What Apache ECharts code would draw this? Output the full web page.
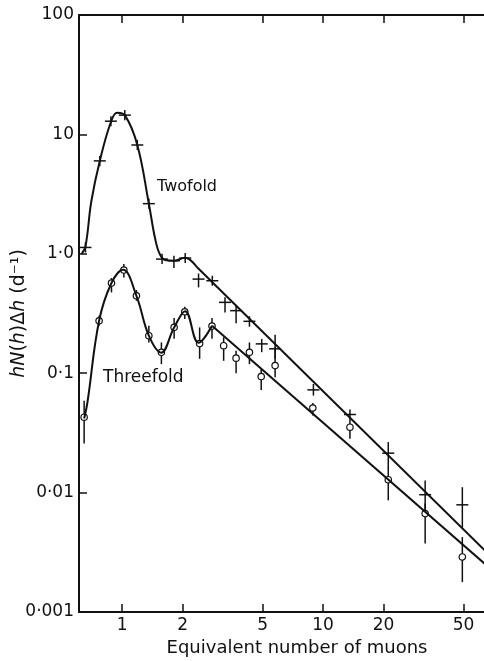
<!DOCTYPE html>
<html>
<head>
<meta charset="utf-8">
<script src="https://cdn.jsdelivr.net/npm/echarts@6/dist/echarts.min.js"></script>
<style>
  html, body { margin: 0; padding: 0; background: #fff; }
  #chart { width: 484px; height: 661px; }
</style>
</head>
<body>
<div id="chart"></div>
<script>
// axis ranges and ticks
const xMin = 0.61;
const xMax = 65.4;
const xTickValues = [1, 2, 5, 10, 20, 50];
const yTickValues = [0.001, 0.01, 0.1, 1, 10, 100];
const yTickLabels = ["0·001", "0·01", "0·1", "1·0", "10", "100"];

// twofold coincidences (crosses)
const twofoldX = [0.657, 0.774, 0.879, 1.031, 1.19, 1.358, 1.58, 1.81, 2.06, 2.40, 2.81, 3.25, 3.69, 4.30, 4.95, 5.77, 8.95, 13.6, 21.1, 32.2, 49.3];
const twofoldY = [1.13, 6.0, 12.9, 14.5, 8.15, 2.63, 0.903, 0.874, 0.921, 0.614, 0.595, 0.392, 0.334, 0.272, 0.176, 0.160, 0.0725, 0.0451, 0.0214, 0.0096, 0.0079];
const twofoldLo = [1.03, 5.4, 11.7, 13.2, 7.4, 2.38, 0.82, 0.76, 0.84, 0.523, 0.54, 0.323, 0.262, 0.245, 0.150, 0.132, 0.0649, 0.0387, 0.0161, 0.0067, 0.0051];
const twofoldHi = [1.25, 6.6, 14.2, 16.0, 9.0, 2.9, 1.0, 0.931, 1.0, 0.684, 0.655, 0.418, 0.375, 0.30, 0.194, 0.210, 0.0812, 0.0494, 0.0265, 0.0126, 0.0111];

// threefold coincidences (circles)
const threefoldX = [0.647, 0.768, 0.885, 1.02, 1.178, 1.358, 1.568, 1.814, 2.05, 2.43, 2.80, 3.20, 3.69, 4.30, 4.92, 5.77, 8.89, 13.6, 21.1, 32.2, 49.3];
const threefoldY = [0.0428, 0.275, 0.569, 0.731, 0.445, 0.206, 0.1496, 0.242, 0.327, 0.177, 0.248, 0.170, 0.1337, 0.1496, 0.0937, 0.1158, 0.0511, 0.0353, 0.01282, 0.00667, 0.00289];
const threefoldLo = [0.0258, 0.250, 0.475, 0.634, 0.405, 0.181, 0.119, 0.194, 0.284, 0.132, 0.194, 0.127, 0.0998, 0.119, 0.0725, 0.0925, 0.0442, 0.0282, 0.00861, 0.00374, 0.00178];
const threefoldHi = [0.0588, 0.303, 0.626, 0.820, 0.497, 0.250, 0.181, 0.290, 0.356, 0.242, 0.290, 0.200, 0.154, 0.181, 0.109, 0.165, 0.0553, 0.0387, 0.0163, 0.0081, 0.00424];

// hand-drawn fitted curves
const twofoldCurveX = [0.629, 0.657, 0.703, 0.774, 0.879, 0.944, 1.031, 1.19, 1.358, 1.46, 1.545, 1.656, 1.814, 2.05, 2.36];
const twofoldCurveY = [1.0, 1.15, 2.77, 6.0, 12.7, 15.2, 14.5, 8.15, 2.63, 1.335, 0.981, 0.882, 0.874, 0.926, 0.771];
const twofoldLineX = [2.36, 65.4];
const twofoldLineY = [0.771, 0.00314];

const threefoldCurveX = [0.647, 0.672, 0.768, 0.885, 1.01, 1.178, 1.358, 1.563, 1.814, 2.058, 2.40, 2.80];
const threefoldCurveY = [0.0417, 0.0571, 0.275, 0.569, 0.735, 0.445, 0.206, 0.1487, 0.241, 0.331, 0.180, 0.250];
const threefoldLineX = [2.80, 65.4];
const threefoldLineY = [0.250, 0.00244];

const zip = (a, b) => a.map((v, i) => [v, b[i]]);
const zip4 = (a, b, c, d) => a.map((v, i) => [v, b[i], c[i], d[i]]);

const FONT = "DejaVu Sans";
const INK = "#111";

const chart = echarts.init(document.getElementById("chart"));

// error bar + marker drawing
function markRenderer(kind) {
  return function (params, api) {
    const x = api.value(0);
    const c = api.coord([x, api.value(1)]);
    const lo = api.coord([x, api.value(2)]);
    const hi = api.coord([x, api.value(3)]);
    const top = Math.min(hi[1], c[1] - 5);
    const bot = Math.max(lo[1], c[1] + 5);
    const style = { stroke: INK, lineWidth: 1.5 };
    const children = [
      { type: "line", shape: { x1: c[0], y1: top, x2: c[0], y2: bot }, style: style },
    ];
    if (kind === "cross") {
      children.push({ type: "line", shape: { x1: c[0] - 6, y1: c[1], x2: c[0] + 6, y2: c[1] }, style: style });
    } else {
      children.push({ type: "circle", shape: { cx: c[0], cy: c[1], r: 3.2 }, style: { stroke: INK, fill: "#fff", lineWidth: 1.2 } });
    }
    return { type: "group", children: children };
  };
}

const lineStyle = { color: INK, width: 2 };

const option = {
  backgroundColor: "#fff",
  animation: false,
  grid: { left: 79, right: -3, top: 15, bottom: 49, outerBoundsMode: "none", containLabel: false },
  xAxis: [
    // data axis (log)
    { type: "log", logBase: 10, min: xMin, max: xMax, show: false },
    // bottom display axis
    {
      type: "value",
      position: "bottom",
      min: Math.log10(xMin),
      max: Math.log10(xMax),
      axisLine: { show: true, onZero: false, lineStyle: { color: INK, width: 2 } },
      axisTick: { show: true, inside: true, length: 8, lineStyle: { color: INK, width: 1.5 }, customValues: xTickValues.map(Math.log10) },
      axisLabel: {
        customValues: xTickValues.map(Math.log10),
        formatter: (v) => String(Math.round(Math.pow(10, v))),
        color: INK, fontFamily: FONT, fontSize: 17, margin: 5,
      },
      splitLine: { show: false },
      name: "Equivalent number of muons",
      nameLocation: "middle",
      nameGap: 27,
      nameMoveOverlap: false,
      nameTextStyle: { color: INK, fontFamily: FONT, fontSize: 18, padding: [0, 0, 0, 28] },
    },
    // top frame
    {
      type: "value",
      position: "top",
      min: Math.log10(xMin),
      max: Math.log10(xMax),
      axisLine: { show: true, onZero: false, lineStyle: { color: INK, width: 2 } },
      axisTick: { show: true, inside: true, length: 8, lineStyle: { color: INK, width: 1.5 }, customValues: xTickValues.map(Math.log10) },
      axisLabel: { show: false },
      splitLine: { show: false },
    },
  ],
  yAxis: [
    {
      type: "log",
      logBase: 10,
      min: yTickValues[0],
      max: yTickValues[yTickValues.length - 1],
      axisLine: { show: true, onZero: false, lineStyle: { color: INK, width: 2 } },
      axisTick: { show: true, inside: true, length: 8, lineStyle: { color: INK, width: 1.5 } },
      axisLabel: {
        formatter: (v) => yTickLabels[Math.round(Math.log10(v)) + 3],
        color: INK, fontFamily: FONT, fontSize: 17, margin: 5,
      },
      splitLine: { show: false },
      name: "{i|hN}({i|h})Δ{i|h} (d⁻¹)",
      nameLocation: "middle",
      nameGap: 50,
      nameMoveOverlap: false,
      nameTextStyle: {
        color: INK, fontFamily: FONT, fontSize: 19,
        rich: { i: { fontStyle: "italic", fontFamily: FONT, fontSize: 19, color: INK } },
      },
    },
  ],
  graphic: [
    { type: "text", left: 157, top: 179, style: { text: "Twofold", font: "16px " + FONT, fill: INK } },
    { type: "text", left: 103, top: 369, style: { text: "Threefold", font: "17px " + FONT, fill: INK } },
  ],
  series: [
    { type: "line", xAxisIndex: 0, yAxisIndex: 0, data: zip(twofoldCurveX, twofoldCurveY), smooth: 0.4, showSymbol: false, lineStyle: lineStyle },
    { type: "line", xAxisIndex: 0, yAxisIndex: 0, data: zip(twofoldLineX, twofoldLineY), showSymbol: false, lineStyle: lineStyle },
    { type: "line", xAxisIndex: 0, yAxisIndex: 0, data: zip(threefoldCurveX, threefoldCurveY), smooth: 0.4, showSymbol: false, lineStyle: lineStyle },
    { type: "line", xAxisIndex: 0, yAxisIndex: 0, data: zip(threefoldLineX, threefoldLineY), showSymbol: false, lineStyle: lineStyle },
    { type: "custom", xAxisIndex: 0, yAxisIndex: 0, data: zip4(twofoldX, twofoldY, twofoldLo, twofoldHi), renderItem: markRenderer("cross"), encode: { x: 0, y: 1 }, z: 3 },
    { type: "custom", xAxisIndex: 0, yAxisIndex: 0, data: zip4(threefoldX, threefoldY, threefoldLo, threefoldHi), renderItem: markRenderer("circle"), encode: { x: 0, y: 1 }, z: 3 },
  ],
};

chart.setOption(option);
</script>
</body>
</html>
